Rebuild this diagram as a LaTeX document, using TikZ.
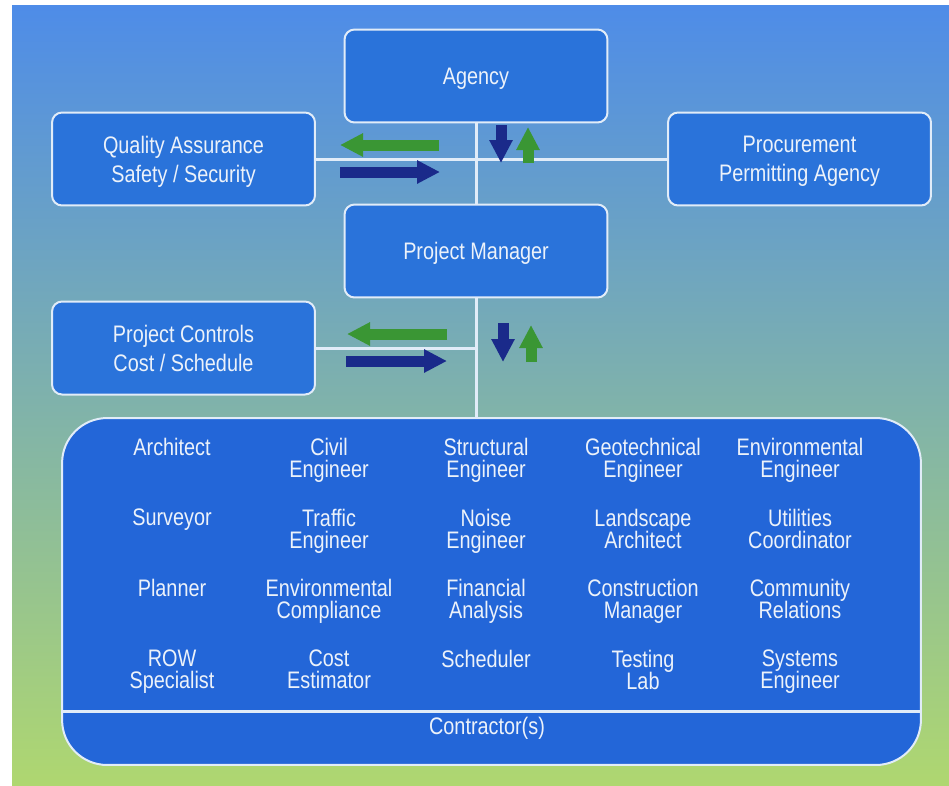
\documentclass[tikz,border=0pt]{standalone}
\usepackage{fontspec}
\setmainfont{Liberation Sans}[FakeStretch=0.83]
\usetikzlibrary{arrows.meta}
\setlength{\lineskiplimit}{-20pt}
\definecolor{bgtop}{RGB}{78,140,232}
\definecolor{bgmid}{RGB}{132,192,208}
\definecolor{bgbot}{RGB}{175,215,112}
\definecolor{boxfill}{RGB}{42,115,218}
\definecolor{bigfill}{RGB}{35,102,216}
\definecolor{boxline}{RGB}{225,236,248}
\definecolor{txt}{RGB}{236,242,250}
\definecolor{arrnavy}{RGB}{26,42,138}
\definecolor{arrgreen}{RGB}{58,150,52}
\begin{document}
\begin{tikzpicture}[x=0.02cm,y=-0.02cm,
	box/.style={draw=boxline,line width=0.04cm,fill=boxfill,rounded corners=0.2cm,
		minimum width=5.26cm,minimum height=1.86cm,align=center,text=txt,text depth=0pt,
		font=\fontsize{13.6}{16.5}\selectfont},
	role/.style={anchor=north,inner sep=0pt,align=center,text=txt,
		font=\fontsize{13.6}{12.5}\selectfont},
	wire/.style={draw=boxline,line width=0.06cm},
	blk/.style={line width=0.22cm,-{Triangle[length=0.46cm,width=0.44cm]}},
	nv/.style={blk,arrnavy},
	gn/.style={blk,arrgreen}]
	\useasboundingbox (0,0) rectangle (949,785);
	\fill[white] (0,0) rectangle (949,785);
	\shade[top color=bgtop,middle color=bgmid,bottom color=bgbot] (12,5) rectangle (949,785);

	% boxes
	\node[box] (agency) at (476,76) {Agency};
	\node[box] (qa) at (183.5,159) {Quality Assurance\\Safety / Security};
	\node[box] (proc) at (799.5,159) {Procurement\\Permitting Agency};
	\node[box] (pm) at (476,251) {Project Manager};
	\node[box] (pc) at (183.5,348) {Project Controls\\Cost / Schedule};
	\node[box,fill=bigfill,rounded corners=0.9cm,minimum width=17.18cm,minimum height=6.94cm] (team) at (491.5,591.5) {};

	% lines
	\coordinate (mid) at (476,348);
	\draw[wire] (agency.south) -- (pm.north);
	\draw[wire] (pm.south) -- (pm.south |- team.north);
	\draw[wire] (qa.east) -- (proc.west);
	\draw[wire] (pc.east) -- (mid);
	\draw[wire] (team.west |- 0,711) -- (team.east |- 0,711);

	% flow arrows
	\draw[gn] (439,145) -- (340,145);
	\draw[nv] (340,172) -- (440,172);
	\draw[nv] (501,125) -- (501,163);
	\draw[gn] (528,163) -- (528,127);
	\draw[gn] (447,334) -- (347,334);
	\draw[nv] (346,361) -- (447,361);
	\draw[nv] (503,323) -- (503,362);
	\draw[gn] (531,362) -- (531,325);

	% disciplines
	\foreach \t [count=\i] in {Architect,Civil\\Engineer,Structural\\Engineer,Geotechnical\\Engineer,Environmental\\Engineer}
		\node[role] (a\i) at (15+157*\i,438) {\t};
	\foreach \t [count=\i] in {Surveyor,Traffic\\Engineer,Noise\\Engineer,Landscape\\Architect,Utilities\\Coordinator}
		\node[role] (b\i) at (15+157*\i,508.5) {\t};
	\foreach \t [count=\i] in {Planner,Environmental\\Compliance,Financial\\Analysis,Construction\\Manager,Community\\Relations}
		\node[role] (c\i) at (15+157*\i,579) {\t};
	\foreach \t [count=\i] in {ROW\\Specialist,Cost\\Estimator,Scheduler,Testing\\Lab,Systems\\Engineer}
		\node[role] (d\i) at (15+157*\i,649.5) {\t};
	\node[role,anchor=center] (contr) at (487,728) {Contractor(s)};
\end{tikzpicture}
\end{document}
